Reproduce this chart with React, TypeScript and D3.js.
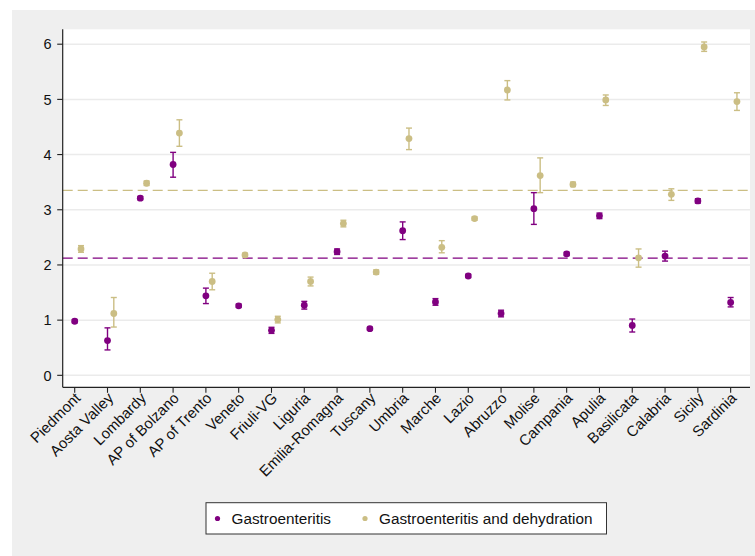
import React from "react";
import * as d3 from "d3";

const regions = ["Piedmont","Aosta Valley","Lombardy","AP of Bolzano","AP of Trento","Veneto","Friuli-VG","Liguria","Emilia-Romagna","Tuscany","Umbria","Marche","Lazio","Abruzzo","Molise","Campania","Apulia","Basilicata","Calabria","Sicily","Sardinia"];

const gastroMean = [0.98,0.63,3.21,3.82,1.44,1.26,0.815,1.27,2.24,0.845,2.62,1.33,1.80,1.12,3.02,2.20,2.89,0.905,2.16,3.16,1.32];
const gastroLow  = [0.95,0.46,3.18,3.59,1.30,1.23,0.76,1.20,2.19,0.82,2.46,1.27,1.77,1.06,2.735,2.17,2.84,0.785,2.07,3.12,1.24];
const gastroHigh = [1.01,0.86,3.24,4.04,1.58,1.29,0.87,1.34,2.29,0.87,2.78,1.39,1.83,1.18,3.31,2.23,2.94,1.02,2.25,3.20,1.41];

const dehydMean = [2.29,1.12,3.48,4.39,1.70,2.18,1.01,1.70,2.75,1.87,4.29,2.32,2.84,5.17,3.62,3.46,4.99,2.13,3.28,5.95,4.96];
const dehydLow  = [2.23,0.875,3.44,4.15,1.55,2.15,0.95,1.62,2.69,1.83,4.09,2.22,2.81,4.99,3.31,3.42,4.89,1.96,3.17,5.87,4.80];
const dehydHigh = [2.35,1.41,3.52,4.63,1.85,2.21,1.07,1.78,2.81,1.91,4.48,2.44,2.87,5.34,3.94,3.50,5.08,2.29,3.38,6.04,5.12];

const gastroAvg = 2.125;
const dehydAvg = 3.35;

const yTicks = [0,1,2,3,4,5,6];
const seriesNames = ["Gastroenteritis","Gastroenteritis and dehydration"];

const PURPLE = "#800080";
const SAND = "#CBBE84";
const FONT = "'Liberation Sans', Arial, Helvetica, sans-serif";

export default function App() {
  const W = 755, H = 556;
  const left = 62.7, right = 750, top = 29.3, bottom = 387.3;
  const x = d3.scaleLinear().domain([-0.366, 20.59]).range([left, right]);
  const y = d3.scaleLinear().domain([-0.217, 6.27]).range([bottom, top]);
  const off = 6.3;
  const cap = 3;

  const errBar = (cx: number, lo: number, hi: number, color: string, key: string) => (
    <g key={key} stroke={color} strokeWidth={1.4}>
      <line x1={cx} x2={cx} y1={y(lo)} y2={y(hi)} />
      <line x1={cx - cap} x2={cx + cap} y1={y(lo)} y2={y(lo)} />
      <line x1={cx - cap} x2={cx + cap} y1={y(hi)} y2={y(hi)} />
    </g>
  );

  return (
    <svg width={W} height={H} style={{ position: "absolute", left: 0, top: 0 }}>
      <rect x={12} y={10} width={W - 12} height={H - 10} fill="#EFEFEF" />
      <rect x={left} y={top} width={right - left} height={bottom - top} fill="#FFFFFF" />
      {yTicks.map((t) => (
        <line key={"g" + t} x1={left} x2={right} y1={y(t)} y2={y(t)} stroke="#EBEBEB" strokeWidth={1.5} />
      ))}
      <line x1={left} x2={right} y1={y(dehydAvg)} y2={y(dehydAvg)} stroke={SAND} strokeWidth={1.2} strokeDasharray="10,5" />
      <line x1={left} x2={right} y1={y(gastroAvg)} y2={y(gastroAvg)} stroke={PURPLE} strokeWidth={1.2} strokeDasharray="10,5" />
      {regions.map((r, i) => errBar(x(i), gastroLow[i], gastroHigh[i], PURPLE, "ge" + i))}
      {regions.map((r, i) => errBar(x(i) + off, dehydLow[i], dehydHigh[i], SAND, "de" + i))}
      {regions.map((r, i) => (
        <circle key={"gp" + i} cx={x(i)} cy={y(gastroMean[i])} r={3.4} fill={PURPLE} />
      ))}
      {regions.map((r, i) => (
        <circle key={"dp" + i} cx={x(i) + off} cy={y(dehydMean[i])} r={3.4} fill={SAND} />
      ))}
      <line x1={left} x2={left} y1={top} y2={bottom} stroke="#222" strokeWidth={1.2} />
      <line x1={left} x2={right} y1={bottom} y2={bottom} stroke="#222" strokeWidth={1.2} />
      {yTicks.map((t) => (
        <g key={"yt" + t}>
          <line x1={left - 5.5} x2={left} y1={y(t)} y2={y(t)} stroke="#222" strokeWidth={1.1} />
          <text x={left - 11} y={y(t)} dy="0.36em" textAnchor="end" fontFamily={FONT} fontSize={14.5} fill="#111">{t}</text>
        </g>
      ))}
      {regions.map((r, i) => (
        <g key={"xt" + i}>
          <line x1={x(i)} x2={x(i)} y1={bottom} y2={bottom + 5.5} stroke="#222" strokeWidth={1.1} />
          <text transform={`translate(${x(i) + 3},${bottom + 8}) rotate(-45)`} textAnchor="end" dy="0.35em" fontFamily={FONT} fontSize={15} fill="#111">{r}</text>
        </g>
      ))}
      <g>
        <rect x={206} y={502.7} width={400.5} height={31.3} fill="#fff" stroke="#333" strokeWidth={1} />
        <circle cx={217.5} cy={518.5} r={2.6} fill={PURPLE} />
        <text x={231.5} y={518.5} dy="0.36em" fontFamily={FONT} fontSize={15.3} fill="#111">{seriesNames[0]}</text>
        <circle cx={365} cy={518.5} r={2.6} fill={SAND} />
        <text x={379} y={518.5} dy="0.36em" fontFamily={FONT} fontSize={15.3} fill="#111">{seriesNames[1]}</text>
      </g>
    </svg>
  );
}
